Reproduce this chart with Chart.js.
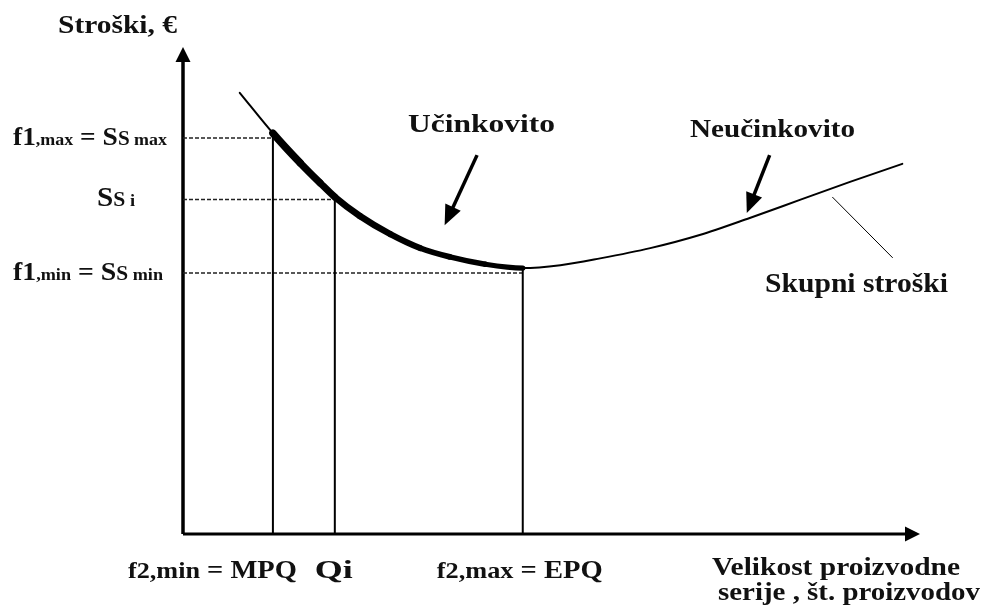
<!DOCTYPE html>
<html><head><meta charset="utf-8">
<script src="https://cdn.jsdelivr.net/npm/chart.js@4/dist/chart.umd.min.js"></script>
<style>html,body{margin:0;padding:0;background:#fff}#wrap{width:983px;height:609px;position:relative}</style>
</head><body><div id="wrap"><canvas id="c"></canvas></div>
<script>
// ---------- data ----------
const yAxisTitle = 'Stroški, €';
const xAxisTitle = ['Velikost proizvodne', 'serije , št. proizvodov'];
// total cost curve (relative units)
const costX = [7.7, 12.2, 15.9, 18.6, 20.6, 24.0, 28.1, 32.2, 36.2, 41.0, 46.1, 51.2, 56.6, 63.4, 70.1, 76.9, 83.7, 90.5, 97.6];
const costY = [90.6, 82.3, 76.2, 72.1, 69.2, 65.3, 61.6, 58.7, 56.9, 55.4, 54.6, 55.2, 56.6, 58.7, 61.4, 64.9, 68.6, 72.3, 76.0];
const efficientFrom = 1, efficientTo = 10; // indices of the efficient (thick) part
// quantities on the x axis
const qValues = [12.2, 20.6, 46.1];
const qCost = [82.3, 69.2, 54.6];
const xTickParts = [['f2,min', ' = MPQ'], ['Q', 'i'], ['f2,max', ' = EPQ']];
// cost levels on the y axis
const levelValues = [81.3, 68.7, 53.6];
const yTickParts = [['f1', ',max', ' = S', 'S', ' max'], ['S', 'S', ' i'], ['f1', ',min', ' = S', 'S', ' min']];
const noteTexts = ['Učinkovito', 'Neučinkovito', 'Skupni stroški'];

// ---------- drawing ----------
const FONT = '"Liberation Serif", "Times New Roman", serif';
function rich(ctx, parts, sizes, x, y, align, width) {
  let w = 0; const ws = [];
  parts.forEach((p, i) => { ctx.font = 'bold ' + sizes[i] + 'px ' + FONT; const m = ctx.measureText(p).width; ws.push(m); w += m; });
  const sx = width ? width / w : 1; const W = w * sx;
  const x0 = align === 'right' ? x - W : align === 'center' ? x - W / 2 : x;
  ctx.save(); ctx.translate(x0, y); ctx.scale(sx, 1);
  ctx.textBaseline = 'alphabetic'; ctx.textAlign = 'left'; ctx.fillStyle = '#111';
  let cx = 0;
  parts.forEach((p, i) => { ctx.font = 'bold ' + sizes[i] + 'px ' + FONT; ctx.fillText(p, cx, 0); cx += ws[i]; });
  ctx.restore();
}
function head(ctx, tx, ty, ang, len, wid) {
  ctx.beginPath();
  ctx.moveTo(tx, ty);
  ctx.lineTo(tx - len * Math.cos(ang) - wid / 2 * Math.sin(ang), ty - len * Math.sin(ang) + wid / 2 * Math.cos(ang));
  ctx.lineTo(tx - len * Math.cos(ang) + wid / 2 * Math.sin(ang), ty - len * Math.sin(ang) - wid / 2 * Math.cos(ang));
  ctx.closePath(); ctx.fill();
}
function arrow(ctx, x1, y1, x2, y2, lw, len, wid) {
  const ang = Math.atan2(y2 - y1, x2 - x1);
  ctx.lineWidth = lw; ctx.lineCap = 'butt';
  ctx.beginPath(); ctx.moveTo(x1, y1);
  ctx.lineTo(x2 - (len - 2) * Math.cos(ang), y2 - (len - 2) * Math.sin(ang)); ctx.stroke();
  head(ctx, x2, y2, ang, len, wid);
}

const textPlugin = {
  id: 'texts',
  afterDatasetsDraw(chart) {
    const ctx = chart.ctx, xs = chart.scales.x, ys = chart.scales.y;
    const X = v => xs.getPixelForValue(v), Y = v => ys.getPixelForValue(v);
    ctx.save();
    ctx.fillStyle = '#000'; ctx.strokeStyle = '#000';
    // axis arrowheads
    head(ctx, X(0), Y(100), -Math.PI / 2, 15, 15);
    head(ctx, X(100), Y(0), 0, 15, 15);
    // annotation arrows
    arrow(ctx, X(39.9), Y(77.8), X(35.5), Y(63.4), 3.5, 20, 17);
    arrow(ctx, X(79.6), Y(77.8), X(76.5), Y(65.9), 3.5, 20, 17);
    ctx.lineWidth = 1; ctx.beginPath(); ctx.moveTo(X(88.1), Y(69.2)); ctx.lineTo(X(96.3), Y(56.7)); ctx.stroke();
    // titles
    rich(ctx, [yAxisTitle], [25], 58, 33, 'left', 119);
    rich(ctx, [xAxisTitle[0]], [26], 712, 575, 'left', 248);
    rich(ctx, [xAxisTitle[1]], [26], 718, 600, 'left', 262);
    // notes
    rich(ctx, [noteTexts[0]], [26], 408, 132, 'left', 147);
    rich(ctx, [noteTexts[1]], [26], 690, 137, 'left', 165);
    rich(ctx, [noteTexts[2]], [27], 765, 292, 'left', 183);
    // y level labels
    const ySizes = [[26, 17, 26, 20, 17], [27, 20, 17], [26, 17, 26, 20, 17]];
    const yRight = [167, 135, 163], yW = [154, 38, 150];
    yTickParts.forEach((p, i) => rich(ctx, p, ySizes[i], yRight[i], Y(levelValues[i]) + 7, 'right', yW[i]));
    // x tick labels
    const xSizes = [[23, 25], [25, 25], [23, 25]];
    const xOff = [-145, -20, -86], xW = [169, 38, 166];
    xTickParts.forEach((p, i) => rich(ctx, p, xSizes[i], X(qValues[i]) + xOff[i], 578, 'left', xW[i]));
    ctx.restore();
  }
};

const datasets = [];
datasets.push({
  data: costX.map((x, i) => ({ x, y: costY[i] })),
  borderColor: '#000', borderWidth: 2, pointRadius: 0, cubicInterpolationMode: 'monotone',
  borderCapStyle: 'round', borderJoinStyle: 'round', clip: false,
  segment: {
    borderWidth: c => (c.p0DataIndex >= efficientFrom && c.p1DataIndex <= efficientTo) ? 7.5 - (c.p0DataIndex - efficientFrom) * 0.28 : 2
  }
});
qValues.forEach((q, i) => datasets.push({
  data: [{ x: q, y: 0 }, { x: q, y: qCost[i] }], borderColor: '#000', borderWidth: 2, pointRadius: 0, clip: false
}));
levelValues.forEach((l, i) => datasets.push({
  data: [{ x: 0, y: l }, { x: qValues[i], y: l }], borderColor: '#222', borderWidth: 1.6, borderDash: [4, 2], pointRadius: 0, clip: false
}));
datasets.push({ data: [{ x: 0, y: 0 }, { x: 0, y: 97 }], borderColor: '#000', borderWidth: 3.5, pointRadius: 0, clip: false });
datasets.push({ data: [{ x: 0, y: 0 }, { x: 98, y: 0 }], borderColor: '#000', borderWidth: 3, pointRadius: 0, clip: false });

new Chart(document.getElementById('c'), {
  type: 'line',
  data: { datasets },
  options: {
    responsive: true, maintainAspectRatio: false, animation: false, events: [],
    layout: { padding: { left: 183, right: 63, top: 47, bottom: 75 } },
    scales: {
      x: { type: 'linear', min: 0, max: 100, display: false },
      y: { type: 'linear', min: 0, max: 100, display: false }
    },
    plugins: { legend: { display: false }, tooltip: { enabled: false } }
  },
  plugins: [textPlugin]
});
</script></body></html>
